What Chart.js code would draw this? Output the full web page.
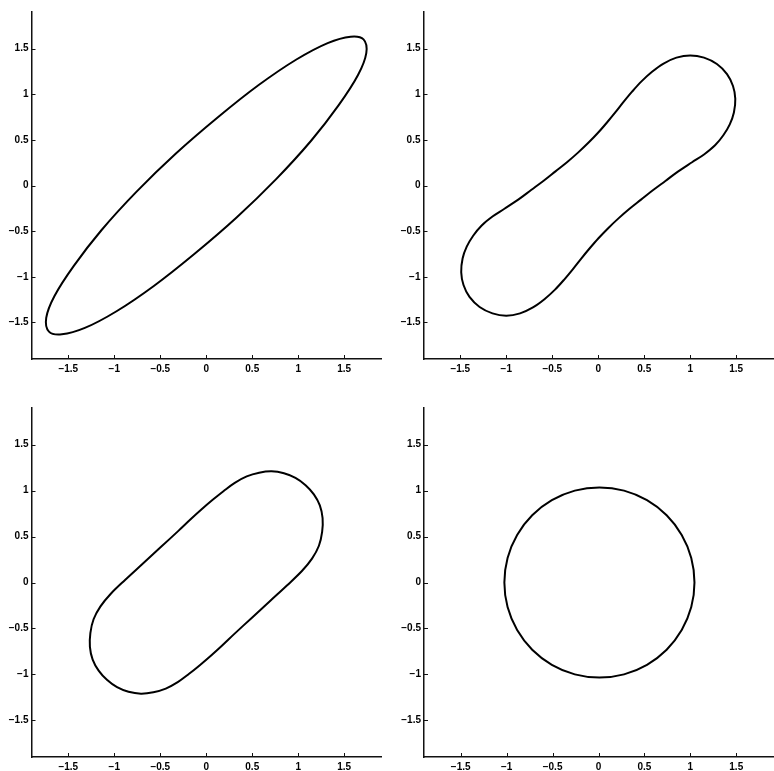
<!DOCTYPE html>
<html>
<head>
<meta charset="utf-8">
<title>Closed curves</title>
<script src="https://cdn.jsdelivr.net/npm/chart.js@4.4.1/dist/chart.umd.min.js"></script>
<style>
  html, body { margin: 0; padding: 0; background: #fff; }
  #page { position: relative; width: 774px; height: 771px; overflow: hidden; }
  #page canvas { position: absolute; }
</style>
</head>
<body>
<div id="page">
  <canvas id="panel1" width="390" height="380" style="left:0;top:0"></canvas>
  <canvas id="panel2" width="384" height="380" style="left:390px;top:0"></canvas>
  <canvas id="panel3" width="390" height="381" style="left:0;top:390px"></canvas>
  <canvas id="panel4" width="384" height="381" style="left:390px;top:390px"></canvas>
</div>
<script>
// Axis range and ticks, same on every panel
const axisMin = -1.9;
const axisMax = 1.9;
const tickValues = [-1.5, -1, -0.5, 0, 0.5, 1, 1.5];
const tickLabels = ['\u22121.5', '\u22121', '\u22120.5', '0', '0.5', '1', '1.5'];

// Top left: long thin ellipse along the diagonal
const ellipseX = [-0.33, -0.76, -1.14, -1.44, -1.65, -1.74, -1.71, -1.57, -1.32, -0.98, -0.57, -0.13,
                   0.33, 0.76, 1.14, 1.44, 1.65, 1.74, 1.71, 1.57, 1.32, 0.98, 0.57, 0.13];
const ellipseY = [0.35, -0.07, -0.49, -0.88, -1.21, -1.45, -1.60, -1.63, -1.56, -1.38, -1.10, -0.75,
                  -0.35, 0.07, 0.49, 0.88, 1.21, 1.45, 1.60, 1.63, 1.56, 1.38, 1.10, 0.75];

// Top right: peanut shape
const peanutX = [0.59, 0.73, 0.87, 1.02, 1.15, 1.27, 1.36, 1.43, 1.475, 1.49, 1.465, 1.40, 1.29, 1.15,
                 1.00, 0.85, 0.71, 0.585, 0.47, 0.37, 0.275, 0.185, 0.095, 0.0, -0.105, -0.22, -0.34, -0.465,
                 -0.59, -0.73, -0.87, -1.02, -1.15, -1.27, -1.36, -1.43, -1.475, -1.49, -1.465, -1.40, -1.29, -1.15,
                 -1.00, -0.85, -0.71, -0.585, -0.47, -0.37, -0.275, -0.185, -0.095, 0.0, 0.105, 0.22, 0.34, 0.465];
const peanutY = [-0.055, 0.05, 0.155, 0.255, 0.34, 0.44, 0.55, 0.67, 0.80, 0.95, 1.09, 1.22, 1.33, 1.40,
                 1.425, 1.40, 1.335, 1.245, 1.14, 1.03, 0.915, 0.80, 0.69, 0.58, 0.47, 0.36, 0.255, 0.155,
                 0.055, -0.05, -0.155, -0.255, -0.34, -0.44, -0.55, -0.67, -0.80, -0.95, -1.09, -1.22, -1.33, -1.40,
                 -1.425, -1.40, -1.335, -1.245, -1.14, -1.03, -0.915, -0.80, -0.69, -0.58, -0.47, -0.36, -0.255, -0.155];

// Bottom left: shorter, rounder peanut
const blobX = [0.30, 0.50, 0.70, 0.88, 1.04, 1.15, 1.225, 1.26, 1.265, 1.235, 1.17, 1.08, 0.97, 0.845,
               0.71, 0.575, 0.44, 0.31, 0.19, 0.07, -0.05, -0.17,
               -0.30, -0.50, -0.70, -0.88, -1.04, -1.15, -1.225, -1.26, -1.265, -1.235, -1.17, -1.08, -0.97, -0.845,
               -0.71, -0.575, -0.44, -0.31, -0.19, -0.07, 0.05, 0.17];
const blobY = [-0.565, -0.38, -0.196, -0.03, 0.125, 0.26, 0.40, 0.55, 0.70, 0.84, 0.96, 1.06, 1.14, 1.19,
               1.21, 1.195, 1.155, 1.085, 0.997, 0.90, 0.797, 0.688,
               0.565, 0.38, 0.196, 0.03, -0.125, -0.26, -0.40, -0.55, -0.70, -0.84, -0.96, -1.06, -1.14, -1.19,
               -1.21, -1.195, -1.155, -1.085, -0.997, -0.90, -0.797, -0.688];

// Bottom right: near circle
const circleX = [1.045, 1.010, 0.906, 0.742, 0.528, 0.278, 0.010, -0.258, -0.508, -0.722, -0.886, -0.990,
                 -1.025, -0.990, -0.886, -0.722, -0.508, -0.258, 0.010, 0.278, 0.528, 0.742, 0.906, 1.010];
const circleY = [0.000, 0.268, 0.518, 0.732, 0.896, 1.000, 1.035, 1.000, 0.896, 0.732, 0.518, 0.268,
                 0.000, -0.268, -0.518, -0.732, -0.896, -1.000, -1.035, -1.000, -0.896, -0.732, -0.518, -0.268];

const inkColor = '#111';
const tickFont = { family: '"Liberation Sans", Arial, Helvetica, sans-serif', size: 10, weight: 'bold' };

// Pad the point list with a neighbour on each end so the spline
// stays smooth where the loop closes; the padded segments are hidden.
function loopPoints(xs, ys) {
    const pts = xs.map((x, i) => ({ x: x, y: ys[i] }));
    const n = pts.length;
    return [pts[n - 1]].concat(pts, [pts[0], pts[1]]);
}

// Ticks pointing into the plot area (left and bottom axes only)
const innerTicks = {
    id: 'innerTicks',
    afterDraw(chart) {
        const { ctx, chartArea, scales } = chart;
        ctx.save();
        ctx.strokeStyle = inkColor;
        ctx.lineWidth = 1;
        ctx.beginPath();
        tickValues.forEach(v => {
            const px = Math.round(scales.x.getPixelForValue(v)) + 0.5;
            ctx.moveTo(px, chartArea.bottom);
            ctx.lineTo(px, chartArea.bottom - 4);
            const py = Math.round(scales.y.getPixelForValue(v)) + 0.5;
            ctx.moveTo(chartArea.left, py);
            ctx.lineTo(chartArea.left + 4, py);
        });
        ctx.stroke();
        ctx.restore();
    }
};

function axisOptions(isX, size) {
    return {
        type: 'linear',
        min: axisMin,
        max: axisMax,
        afterBuildTicks: scale => {
            scale.ticks = tickValues.map(v => ({ value: v }));
        },
        afterFit: scale => {
            if (isX) scale.height = size;
            else scale.width = size;
        },
        grid: { display: false, drawTicks: false },
        border: { color: inkColor, width: 1.5 },
        ticks: {
            color: '#000',
            font: tickFont,
            padding: isX ? 4 : 3,
            autoSkip: false,
            maxRotation: 0,
            callback: v => tickLabels[tickValues.indexOf(v)]
        }
    };
}

function makePanel(id, xs, ys, box) {
    const points = loopPoints(xs, ys);
    const lastHidden = points.length - 2;
    new Chart(document.getElementById(id), {
        type: 'scatter',
        data: {
            datasets: [{
                data: points,
                showLine: true,
                fill: false,
                borderColor: '#000',
                borderWidth: 2,
                pointRadius: 0,
                tension: 0.35,
                segment: {
                    borderColor: c => (c.p0DataIndex === 0 || c.p0DataIndex === lastHidden) ? 'rgba(0,0,0,0)' : undefined
                }
            }]
        },
        options: {
            responsive: false,
            animation: false,
            events: [],
            layout: { padding: { top: box.top, right: box.right, left: 0, bottom: 0 } },
            plugins: {
                legend: { display: false },
                tooltip: { enabled: false }
            },
            scales: {
                x: axisOptions(true, box.xHeight),
                y: axisOptions(false, box.yWidth)
            }
        },
        plugins: [innerTicks]
    });
}

makePanel('panel1', ellipseX, ellipseY, { top: 12, right: 9, yWidth: 31.5, xHeight: 21 });
makePanel('panel2', peanutX, peanutY, { top: 12, right: 1, yWidth: 33.5, xHeight: 21 });
makePanel('panel3', blobX, blobY, { top: 18, right: 9, yWidth: 31.5, xHeight: 14 });
makePanel('panel4', circleX, circleY, { top: 18, right: 1, yWidth: 34, xHeight: 14 });
</script>
</body>
</html>
